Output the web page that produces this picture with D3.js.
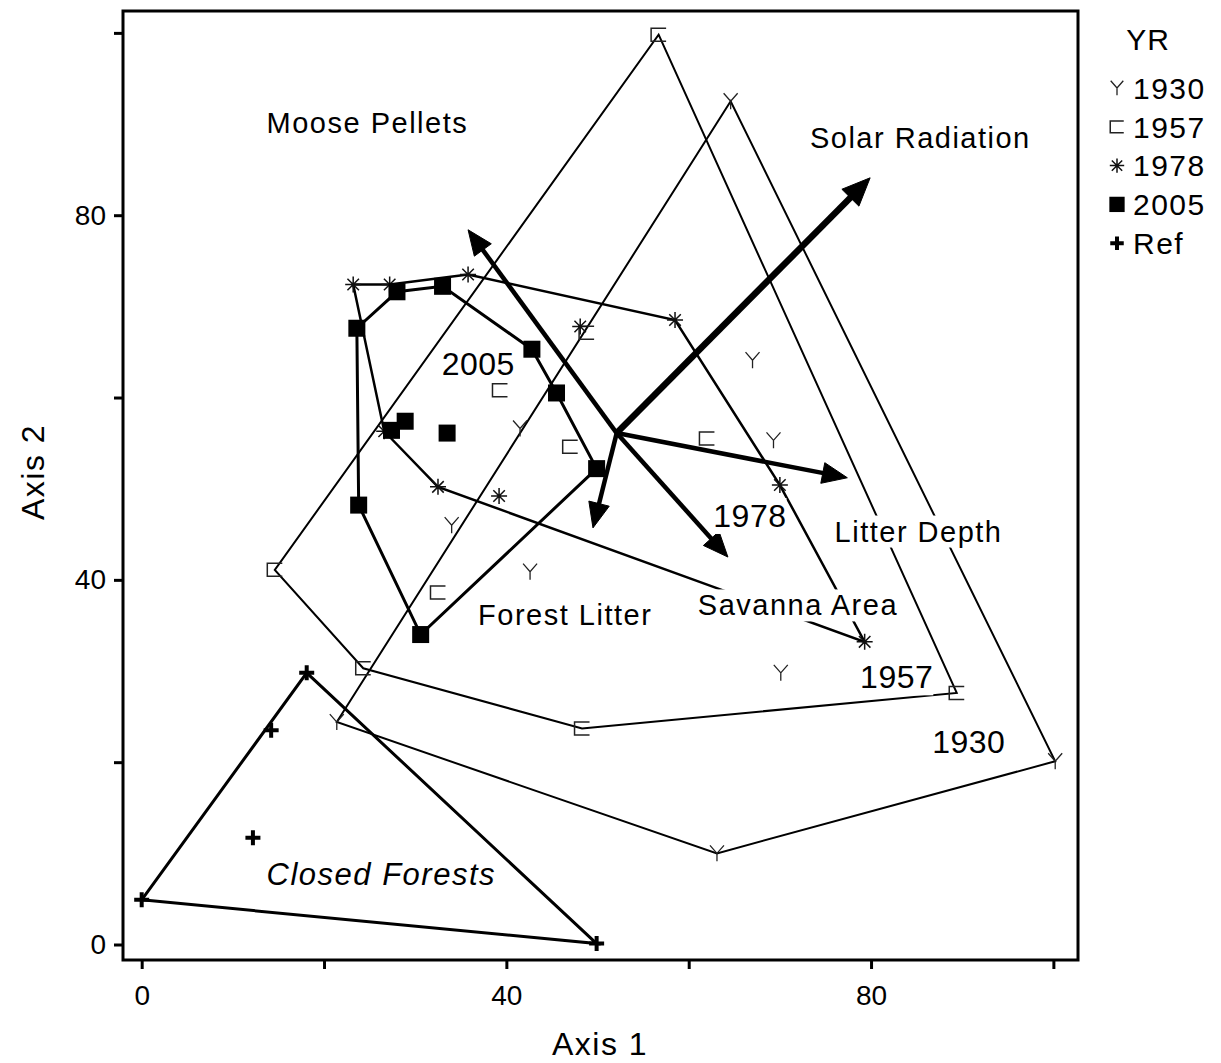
<!DOCTYPE html>
<html>
<head>
<meta charset="utf-8">
<script src="https://cdn.jsdelivr.net/npm/d3@7"></script>
<style>
  body { margin: 0; background: #fff; }
  text { font-family: "Liberation Sans", Arial, sans-serif; fill: #000; }
</style>
</head>
<body>
<svg id="chart" width="1221" height="1063"></svg>
<script>
// ---- Ordination scores (Axis 1, Axis 2) per survey year ----
const years = ["1930", "1957", "1978", "2005", "Ref"];

const pts1930 = [[21.4, 24.4], [64.6, 92.5], [100.2, 20.1], [63.1, 10.0],
                 [67.0, 64.1], [69.3, 55.3], [41.5, 56.6], [34.0, 46.0], [42.6, 40.9], [70.1, 29.8]];
const hull1930 = [0, 1, 2, 3];

const pts1957 = [[56.7, 99.8], [89.4, 27.6], [48.3, 23.7], [24.3, 30.3], [14.6, 41.1],
                 [48.8, 67.1], [39.3, 60.8], [47.0, 54.6], [62.0, 55.5], [32.5, 38.6]];
const hull1957 = [0, 1, 2, 3, 4];

const pts1978 = [[23.2, 72.4], [27.2, 72.4], [35.8, 73.5], [58.5, 68.5], [70.0, 50.4],
                 [79.3, 33.2], [32.5, 50.2], [26.6, 56.3], [48.1, 67.8], [39.2, 49.2]];
const hull1978 = [0, 1, 2, 3, 4, 5, 6, 7];

const pts2005 = [[23.6, 67.6], [28.0, 71.6], [33.0, 72.2], [42.8, 65.3], [45.5, 60.5],
                 [49.9, 52.2], [30.6, 34.0], [23.8, 48.2], [28.9, 57.4], [27.4, 56.4], [33.5, 56.1]];
const hull2005 = [0, 1, 2, 3, 4, 5, 6, 7];

const ptsRef = [[0.0, 4.9], [18.1, 29.8], [49.9, 0.1], [14.2, 23.5], [12.2, 11.7]];
const hullRef = [0, 1, 2];

// ---- Environmental vectors (biplot arrows) ----
const vectorOrigin = [52.1, 56.1];
const vectorNames = ["Solar Radiation", "Moose Pellets", "Litter Depth", "Forest Litter", "Savanna Area"];
const vectorTips = [[79.9, 84.1], [35.8, 78.4], [77.4, 51.2], [49.5, 45.7], [64.3, 42.5]];

// ---- Text annotations placed in axis units (start of text, baseline) ----
const noteTexts = ["Moose Pellets", "Solar Radiation", "Litter Depth", "Savanna Area", "Forest Litter",
                   "2005", "1978", "1957", "1930", "Closed Forests"];
const notePos = [[13.7, 89.0], [73.3, 87.4], [76.0, 44.2], [61.0, 36.1], [36.9, 35.1],
                 [32.9, 62.5], [62.7, 45.8], [78.8, 28.1], [86.7, 21.0], [13.7, 6.5]];

// ---- Axis ticks ----
const tickValues = [0, 20, 40, 60, 80, 100];
const tickLabels = [0, 40, 80];

const groups = [
  { year: "1930", pts: pts1930, hull: hull1930 },
  { year: "1957", pts: pts1957, hull: hull1957 },
  { year: "1978", pts: pts1978, hull: hull1978 },
  { year: "2005", pts: pts2005, hull: hull2005 },
  { year: "Ref",  pts: ptsRef,  hull: hullRef }
];

const svg = d3.select("#chart");
const x = d3.scaleLinear().domain([-2.05, 102.7]).range([123, 1078]);
const y = d3.scaleLinear().domain([-1.70, 102.4]).range([960, 11]);

// Hull outline widths per year
const hullWidth = { "1930": 2, "1957": 2, "1978": 2.5, "2005": 3, "Ref": 3 };

// Symbol drawing for each year
function drawSymbol(g, year, cx, cy, k) {
  if (year === "1930") {
    g.append("path")
      .attr("d", `M${cx - 7 * k},${cy - 8 * k}L${cx},${cy}L${cx + 7 * k},${cy - 8 * k}M${cx},${cy}L${cx},${cy + 8 * k}`)
      .attr("fill", "none").attr("stroke", "#222").attr("stroke-width", 1.3);
  } else if (year === "1957") {
    g.append("path")
      .attr("d", `M${cx + 7.5 * k},${cy - 6.5 * k}H${cx - 7.5 * k}V${cy + 6.5 * k}H${cx + 7.5 * k}`)
      .attr("fill", "none").attr("stroke", "#222").attr("stroke-width", 1.5);
  } else if (year === "1978") {
    const r = 8 * k, d = r * 0.72;
    g.append("path")
      .attr("d", `M${cx - r},${cy}H${cx + r}M${cx},${cy - r}V${cy + r}M${cx - d},${cy - d}L${cx + d},${cy + d}M${cx - d},${cy + d}L${cx + d},${cy - d}`)
      .attr("fill", "none").attr("stroke", "#111").attr("stroke-width", 1.5);
  } else if (year === "2005") {
    const h = 8.5 * k;
    g.append("rect").attr("x", cx - h).attr("y", cy - h).attr("width", 2 * h).attr("height", 2 * h)
      .attr("fill", "#000");
  } else {
    const r = 7.5 * k;
    g.append("path")
      .attr("d", `M${cx - r},${cy}H${cx + r}M${cx},${cy - r}V${cy + r}`)
      .attr("fill", "none").attr("stroke", "#000").attr("stroke-width", 4);
  }
}

// ---- Hull polygons ----
const hullLayer = svg.append("g");
groups.forEach(gr => {
  const poly = gr.hull.map(i => [x(gr.pts[i][0]), y(gr.pts[i][1])]);
  hullLayer.append("path")
    .attr("d", d3.line()(poly) + "Z")
    .attr("fill", "none")
    .attr("stroke", "#000")
    .attr("stroke-width", hullWidth[gr.year])
    .attr("stroke-linejoin", "miter");
});

// ---- Point symbols ----
const ptLayer = svg.append("g");
groups.forEach(gr => {
  gr.pts.forEach(p => drawSymbol(ptLayer, gr.year, x(p[0]), y(p[1]), 1));
});

// ---- Vectors ----
const vecLayer = svg.append("g");
vectorTips.forEach((t, i) => {
  const x0 = x(vectorOrigin[0]), y0 = y(vectorOrigin[1]);
  const x1 = x(t[0]), y1 = y(t[1]);
  const len = Math.hypot(x1 - x0, y1 - y0);
  const ux = (x1 - x0) / len, uy = (y1 - y0) / len;
  const big = vectorNames[i] === "Solar Radiation";
  const L = big ? 28 : 25, W = big ? 12 : 10.5, sw = big ? 6.5 : 4.5;
  const bx = x1 - ux * L, by = y1 - uy * L;
  vecLayer.append("line")
    .attr("x1", x0).attr("y1", y0).attr("x2", bx + ux * 2).attr("y2", by + uy * 2)
    .attr("stroke", "#000").attr("stroke-width", sw);
  vecLayer.append("path")
    .attr("d", `M${x1},${y1}L${bx - uy * W},${by + ux * W}L${bx + uy * W},${by - ux * W}Z`)
    .attr("fill", "#000").attr("stroke", "#000").attr("stroke-width", 1);
});

// ---- Annotation labels (opaque background) ----
const noteLayer = svg.append("g");
noteTexts.forEach((txt, i) => {
  const isYear = /^\d+$/.test(txt);
  const italic = txt === "Closed Forests";
  const g = noteLayer.append("g");
  const t = g.append("text")
    .attr("x", x(notePos[i][0]))
    .attr("y", y(notePos[i][1]))
    .attr("font-size", isYear ? 32 : (italic ? 31 : 29))
    .attr("letter-spacing", isYear ? 0.5 : 1.5)
    .attr("font-style", italic ? "italic" : "normal")
    .text(txt);
  const bb = t.node().getBBox();
  g.insert("rect", "text")
    .attr("x", bb.x).attr("y", bb.y).attr("width", bb.width).attr("height", bb.height)
    .attr("fill", "#fff");
});

// ---- Axes ----
const xAxis = d3.axisBottom(x).tickValues(tickValues).tickSize(9).tickPadding(16)
  .tickFormat(d => tickLabels.includes(d) ? d : "");
const yAxis = d3.axisLeft(y).tickValues(tickValues).tickSize(9).tickPadding(8)
  .tickFormat(d => tickLabels.includes(d) ? d : "");

const gx = svg.append("g").attr("transform", "translate(0,960)").call(xAxis);
const gy = svg.append("g").attr("transform", "translate(123,0)").call(yAxis);
[gx, gy].forEach(g => {
  g.select(".domain").remove();
  g.selectAll(".tick line").attr("stroke", "#000").attr("stroke-width", 3);
  g.selectAll(".tick text").attr("font-size", 28).attr("font-family", "Liberation Sans, Arial, sans-serif").attr("fill", "#000");
});

// Plot frame
svg.append("rect")
  .attr("x", 123).attr("y", 11).attr("width", 1078 - 123).attr("height", 960 - 11)
  .attr("fill", "none").attr("stroke", "#000").attr("stroke-width", 3);

// Axis titles
svg.append("text").attr("x", 600).attr("y", 1055).attr("text-anchor", "middle")
  .attr("font-size", 32).attr("letter-spacing", 1.5).text("Axis 1");
svg.append("text").attr("transform", "translate(44,472) rotate(-90)").attr("text-anchor", "middle")
  .attr("font-size", 32).attr("letter-spacing", 1.5).text("Axis 2");

// ---- Legend ----
const leg = svg.append("g");
leg.append("text").attr("x", 1148).attr("y", 50).attr("text-anchor", "middle")
  .attr("font-size", 30).attr("letter-spacing", 1).text("YR");
years.forEach((yr, i) => {
  const cy = 88 + i * 38.8;
  drawSymbol(leg, yr, 1117, cy, 0.9);
  leg.append("text").attr("x", 1133).attr("y", cy).attr("dy", "0.36em")
    .attr("font-size", 30).attr("letter-spacing", 1.5).text(yr);
});
</script>
</body>
</html>
